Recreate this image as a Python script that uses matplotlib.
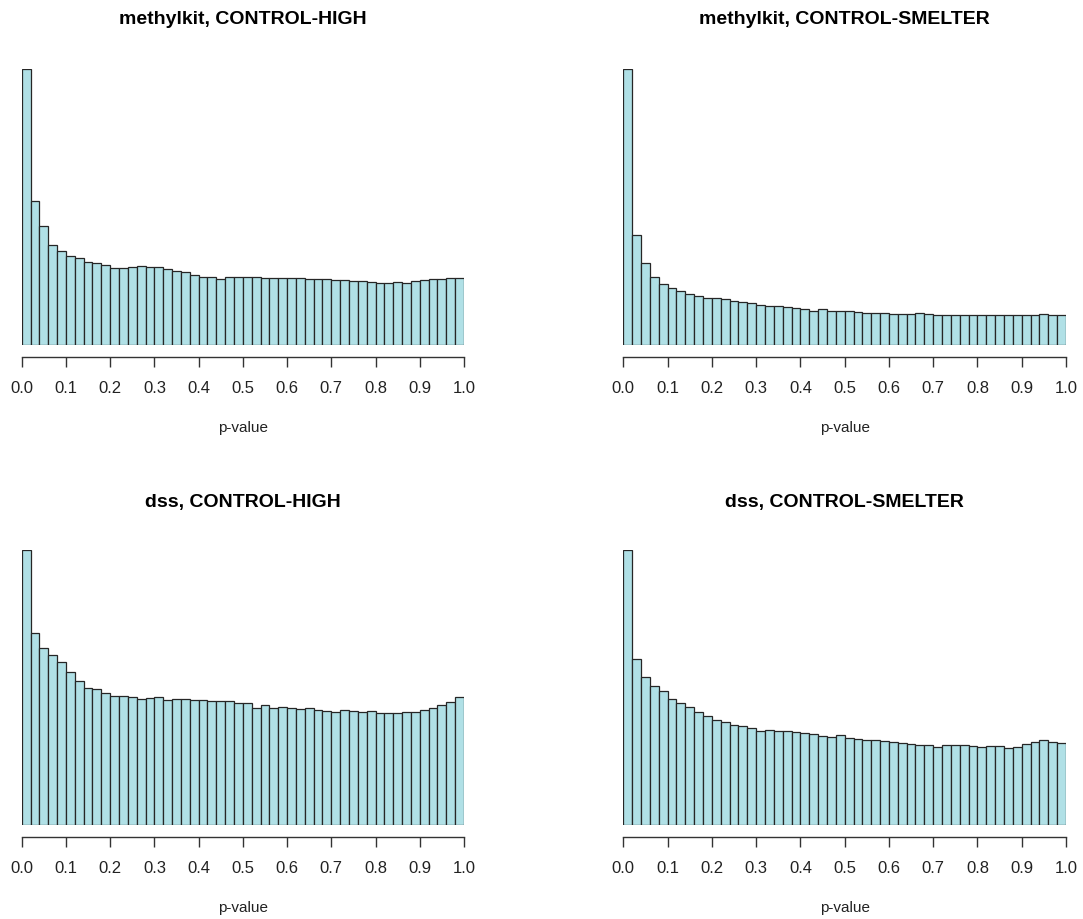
import matplotlib
matplotlib.use("Agg")
import matplotlib.pyplot as plt
import numpy as np

plt.rcParams['font.family'] = ['Liberation Sans', 'DejaVu Sans']

# bin edges: 50 bins of width 0.02 on [0, 1]
bin_width = 0.02
n_bins = 50

titles = ["methylkit, CONTROL-HIGH", "methylkit, CONTROL-SMELTER",
          "dss, CONTROL-HIGH", "dss, CONTROL-SMELTER"]

# relative bar heights
methylkit_high = [826, 431, 355, 298, 280, 266, 259, 248, 246, 240,
                  231, 229, 234, 235, 234, 232, 227, 220, 217, 210,
                  205, 203, 199, 203, 203, 204, 204, 201, 201, 201,
                  201, 201, 199, 197, 197, 194, 194, 192, 192, 189,
                  186, 185, 188, 187, 192, 194, 197, 197, 200, 200]

methylkit_smelter = [826, 328, 245, 203, 182, 170, 162, 152, 146, 142,
                     140, 137, 133, 129, 125, 121, 118, 116, 113, 112,
                     107, 103, 107, 103, 101, 102, 99, 97, 97, 97,
                     92, 94, 94, 95, 93, 91, 91, 91, 91, 90,
                     91, 91, 91, 91, 91, 91, 91, 92, 89, 91]

dss_high = [826, 577, 533, 510, 489, 459, 433, 410, 407, 397,
            388, 387, 383, 379, 381, 384, 375, 379, 378, 376,
            374, 373, 373, 372, 367, 367, 352, 360, 350, 354,
            352, 347, 350, 345, 341, 338, 344, 342, 340, 341,
            336, 335, 335, 339, 339, 344, 352, 360, 370, 385]

dss_smelter = [826, 499, 445, 419, 403, 379, 367, 355, 338, 326,
               316, 309, 299, 296, 291, 282, 286, 281, 281, 280,
               275, 272, 266, 263, 269, 260, 257, 255, 256, 252,
               250, 246, 244, 241, 241, 234, 239, 239, 239, 237,
               233, 237, 237, 231, 235, 243, 249, 256, 250, 246]

series = [methylkit_high, methylkit_smelter, dss_high, dss_smelter]
tick_vals = [0.0, 0.1, 0.2, 0.3, 0.4, 0.5, 0.6, 0.7, 0.8, 0.9, 1.0]
tick_labels = ["0.0", "0.1", "0.2", "0.3", "0.4", "0.5", "0.6", "0.7", "0.8", "0.9", "1.0"]

W, H = 1083, 920
fig = plt.figure(figsize=(W / 100, H / 100), dpi=100)

# axes rectangles in pixels: (left, right, top, bottom, title_y, xlabel_y)
rects = [(21.7, 464, 70, 346, 20, 428), (623.3, 1066, 70, 346, 20, 428),
         (21.7, 464, 551, 826, 502.5, 908), (623.3, 1066, 551, 826, 502.5, 908)]

edges = np.arange(n_bins) * bin_width

for title, vals, (l, r, t, b, ty, ly) in zip(titles, series, rects):
    ax = fig.add_axes([l / W, 1 - b / H, (r - l) / W, (b - t) / H])
    ax.bar(edges, vals, width=bin_width, align='edge', color='#B0E0E6',
           edgecolor='#262626', linewidth=0.9)
    ax.set_xlim(0, 1)
    ax.set_ylim(0, max(vals))
    for s in ['top', 'right', 'left']:
        ax.spines[s].set_visible(False)
    ax.spines['bottom'].set_position(('outward', 8.5))
    ax.spines['bottom'].set_color('#333333')
    ax.spines['bottom'].set_linewidth(1.0)
    ax.set_yticks([])
    ax.set_xticks(tick_vals)
    ax.set_xticklabels(tick_labels)
    ax.tick_params(axis='x', length=7, width=1.0, color='#333333',
                   labelsize=12, pad=10, labelcolor='#222222')
    ax.set_xlabel("p-value", fontsize=11, color='#222222')
    ax.xaxis.set_label_coords(0.5, -(ly - b) / (b - t))
    ax.xaxis.label.set_va('center')
    ax.set_title(title, fontsize=14, fontweight='bold', pad=0,
                 y=1 + (t - ty) / (b - t), va='center')

fig.savefig("out.png", dpi=100)
